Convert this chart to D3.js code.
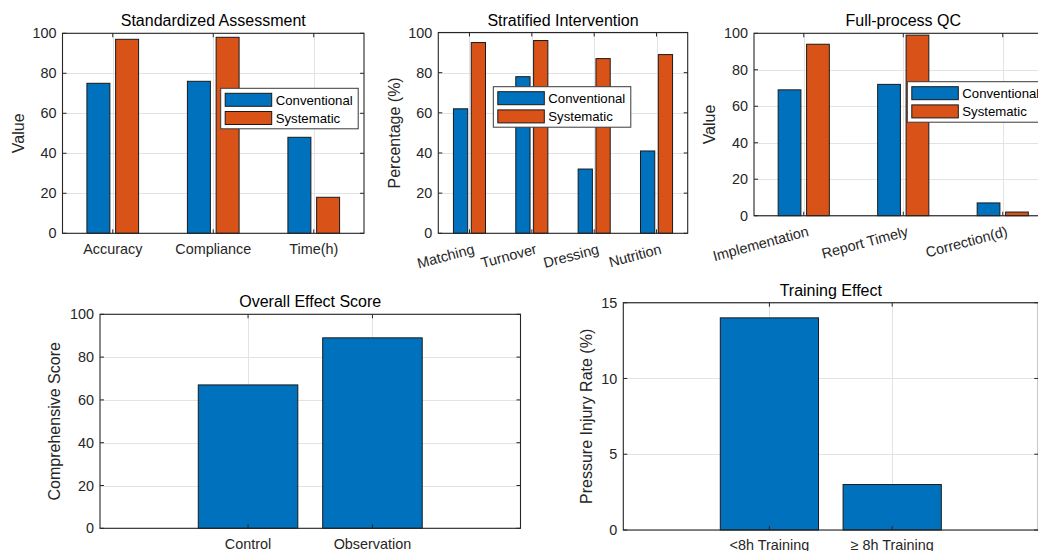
<!DOCTYPE html>
<html>
<head>
<meta charset="utf-8">
<script src="https://cdn.jsdelivr.net/npm/d3@7"></script>
<style>
  html, body { margin: 0; padding: 0; background: #fff; overflow: hidden; }
  svg { display: block; font-family: "Liberation Sans", Arial, Helvetica, sans-serif; }
</style>
</head>
<body>
<svg id="chart" width="1038" height="551"></svg>
<script>
// ---------------- DATA ----------------
const seriesNames = ["Conventional", "Systematic"];

const saCategories = ["Accuracy", "Compliance", "Time(h)"];
const saConventional = [75, 76, 48];
const saSystematic = [97, 98, 18];

const siCategories = ["Matching", "Turnover", "Dressing", "Nutrition"];
const siConventional = [62, 78, 32, 41];
const siSystematic = [95, 96, 87, 89];

const qcCategories = ["Implementation", "Report Timely", "Correction(d)"];
const qcConventional = [69, 72, 7];
const qcSystematic = [94, 99, 2];

const oeCategories = ["Control", "Observation"];
const oeScores = [67, 89];

const teCategories = ["<8h Training", "\u2265 8h Training"];
const teRates = [14, 3];

const pctTicks = [0, 20, 40, 60, 80, 100];
const rateTicks = [0, 5, 10, 15];

const titles = ["Standardized Assessment", "Stratified Intervention", "Full-process QC", "Overall Effect Score", "Training Effect"];
const yLabels = ["Value", "Percentage (%)", "Value", "Comprehensive Score", "Pressure Injury Rate (%)"];

// ---------------- STYLE ----------------
const colors = ["#0072BD", "#D95319"];
const axisColor = "#262626";
const gridColor = "#e3e3e3";
const tickFont = 14.4, labelFont = 16, titleFont = 16, legendFont = 13.2;

const svg = d3.select("#chart");

function panel(cfg) {
  const { left, top, right, bottom, xDomain, yMax, yTicks, cats, series, title, ylabel, ylabelX, rotate, legend } = cfg;
  const g = svg.append("g");
  const x = d3.scaleLinear().domain(xDomain).range([left, right]);
  const y = d3.scaleLinear().domain([0, yMax]).range([bottom, top]);
  const catPos = cats.map((c, i) => i + 1);

  // grid
  g.append("g").selectAll("line.hg").data(yTicks).join("line")
    .attr("x1", left).attr("x2", right)
    .attr("y1", d => Math.round(y(d)) + 0.5).attr("y2", d => Math.round(y(d)) + 0.5)
    .attr("stroke", gridColor).attr("stroke-width", 1);
  g.append("g").selectAll("line.vg").data(catPos).join("line")
    .attr("x1", d => Math.round(x(d)) + 0.5).attr("x2", d => Math.round(x(d)) + 0.5)
    .attr("y1", top).attr("y2", bottom)
    .attr("stroke", gridColor).attr("stroke-width", 1);

  // bars
  const n = series.length;
  const groupW = n > 1 ? Math.min(0.8, n / (n + 1.5)) : 1;
  const slot = n > 1 ? groupW / n : 1;
  const barW = 0.8 * slot;
  series.forEach((vals, s) => {
    const off = n > 1 ? (s - (n - 1) / 2) * slot : 0;
    g.append("g").selectAll("rect").data(vals).join("rect")
      .attr("x", (d, i) => x(i + 1 + off - barW / 2))
      .attr("width", x(barW) - x(0))
      .attr("y", d => y(d))
      .attr("height", d => y(0) - y(d))
      .attr("fill", colors[s])
      .attr("stroke", "#1a1a1a").attr("stroke-width", 1);
  });

  // box
  g.append("rect").attr("x", left).attr("y", top).attr("width", right - left).attr("height", bottom - top)
    .attr("fill", "none").attr("stroke", axisColor).attr("stroke-width", 1.1);

  // ticks inward (all four sides)
  const tl = 4;
  yTicks.forEach(v => {
    const yy = y(v);
    g.append("line").attr("x1", left).attr("x2", left + tl).attr("y1", yy).attr("y2", yy).attr("stroke", axisColor);
    g.append("line").attr("x1", right).attr("x2", right - tl).attr("y1", yy).attr("y2", yy).attr("stroke", axisColor);
    g.append("text").attr("x", left - 6).attr("y", yy).attr("dy", "0.35em")
      .attr("text-anchor", "end").attr("font-size", tickFont).attr("fill", axisColor).text(v);
  });
  catPos.forEach((p, i) => {
    const xx = x(p);
    g.append("line").attr("x1", xx).attr("x2", xx).attr("y1", bottom).attr("y2", bottom - tl).attr("stroke", axisColor);
    g.append("line").attr("x1", xx).attr("x2", xx).attr("y1", top).attr("y2", top + tl).attr("stroke", axisColor);
    if (rotate) {
      g.append("text").attr("transform", `translate(${xx + 3},${bottom + 10}) rotate(-15)`)
        .attr("dy", "0.72em").attr("text-anchor", "end")
        .attr("font-size", tickFont).attr("fill", axisColor).text(cats[i]);
    } else {
      g.append("text").attr("x", xx).attr("y", bottom + 10).attr("dy", "0.72em")
        .attr("text-anchor", "middle").attr("font-size", tickFont).attr("fill", axisColor).text(cats[i]);
    }
  });

  // title
  g.append("text").attr("x", (left + right) / 2).attr("y", top - 7)
    .attr("text-anchor", "middle").attr("font-size", titleFont).attr("fill", "#000").text(title);

  // y label
  g.append("text").attr("transform", `translate(${ylabelX},${(top + bottom) / 2}) rotate(-90)`)
    .attr("text-anchor", "middle").attr("font-size", labelFont).attr("fill", axisColor).text(ylabel);

  // legend
  if (legend) {
    const lg = g.append("g").attr("transform", `translate(${legend.x},${legend.y})`);
    lg.append("rect").attr("x", 0).attr("y", 0).attr("width", 137.5).attr("height", 40.5)
      .attr("fill", "#fff").attr("stroke", "#3a3a3a").attr("stroke-width", 1);
    seriesNames.forEach((name, s) => {
      const cy = 11.5 + s * 18.2;
      lg.append("rect").attr("x", 4.5).attr("y", cy - 6.5).attr("width", 46.5).attr("height", 13)
        .attr("fill", colors[s]).attr("stroke", "#1a1a1a").attr("stroke-width", 1);
      lg.append("text").attr("x", 55).attr("y", cy).attr("dy", "0.36em")
        .attr("font-size", legendFont).attr("fill", "#000").text(name);
    });
  }
}

panel({ left: 62.5, top: 33.3, right: 364, bottom: 233.3, xDomain: [0.5, 3.5], yMax: 100, yTicks: pctTicks,
  cats: saCategories, series: [saConventional, saSystematic], title: titles[0], ylabel: yLabels[0], ylabelX: 23.5,
  rotate: false, legend: { x: 220.7, y: 88.3 } });

panel({ left: 438.3, top: 32.5, right: 687.7, bottom: 233.3, xDomain: [0.5, 4.5], yMax: 100, yTicks: pctTicks,
  cats: siCategories, series: [siConventional, siSystematic], title: titles[1], ylabel: yLabels[1], ylabelX: 400,
  rotate: true, legend: { x: 493.3, y: 86.7 } });

panel({ left: 754, top: 33.3, right: 1052.5, bottom: 215.7, xDomain: [0.5, 3.5], yMax: 100, yTicks: pctTicks,
  cats: qcCategories, series: [qcConventional, qcSystematic], title: titles[2], ylabel: yLabels[2], ylabelX: 715,
  rotate: true, legend: { x: 907.3, y: 81.7 } });

panel({ left: 100, top: 314.3, right: 520.5, bottom: 528.3, xDomain: [-0.19, 3.19], yMax: 100, yTicks: pctTicks,
  cats: oeCategories, series: [oeScores], title: titles[3], ylabel: yLabels[3], ylabelX: 60,
  rotate: false, legend: null });

panel({ left: 623.3, top: 302.7, right: 1038.3, bottom: 530, xDomain: [-0.19, 3.19], yMax: 15, yTicks: rateTicks,
  cats: teCategories, series: [teRates], title: titles[4], ylabel: yLabels[4], ylabelX: 591.5,
  rotate: false, legend: null });
</script>
</body>
</html>
